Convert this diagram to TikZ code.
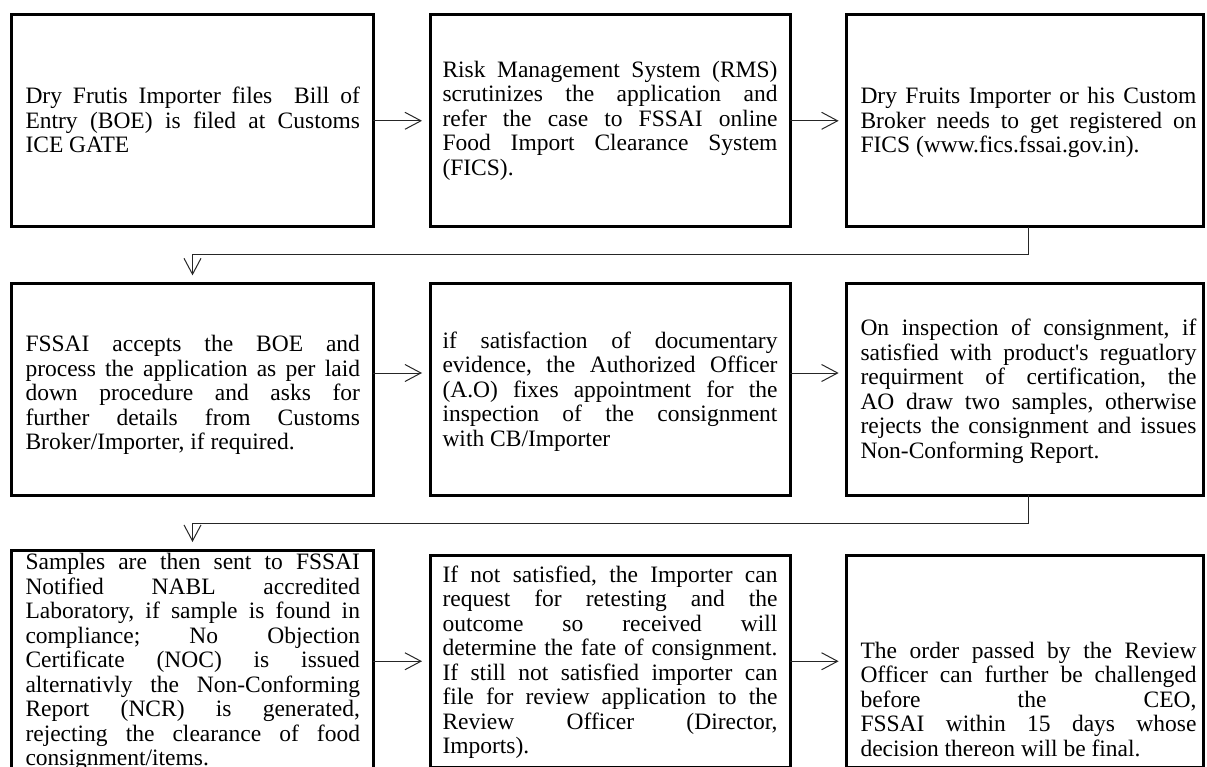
\documentclass[tikz,border=0pt]{standalone}
\usepackage{fontspec}
\setmainfont{Liberation Serif}[Ligatures=TeXOff]
\usetikzlibrary{arrows.meta}
\tolerance=10000
\hbadness=10000
\hyphenpenalty=10000
\exhyphenpenalty=10000
\frenchspacing
\tikzset{
  stepbox/.style={draw=black, line width=3pt, inner sep=0pt, outer sep=0pt},
  txt/.style={anchor=base west, inner sep=0pt, outer sep=0pt, align=justify,
    text width=#1, font=\fontsize{23.5}{24.5}\selectfont},
  conn/.style={line width=1pt, draw=black!85,
    -{Straight Barb[length=16pt,width=17pt,line width=1pt]}},
}
\begin{document}
\begin{tikzpicture}[x=1pt,y=-1pt]
\useasboundingbox (0,0) rectangle (1207,767);
\clip (0,0) rectangle (1207,767);
% boxes
\node[stepbox, minimum width=361.6pt, minimum height=211.7pt] (b1) at (192.5,120.8) {};
\node[stepbox, minimum width=360pt, minimum height=211.7pt] (b2) at (610,120.8) {};
\node[stepbox, minimum width=357.3pt, minimum height=211.7pt] (b3) at (1025.3,120.8) {};
\node[stepbox, minimum width=361.6pt, minimum height=211.7pt] (b4) at (192.5,389.2) {};
\node[stepbox, minimum width=360pt, minimum height=211.7pt] (b5) at (610,389.2) {};
\node[stepbox, minimum width=357.3pt, minimum height=211.7pt] (b6) at (1025.3,389.2) {};
\node[stepbox, minimum width=361.6pt, minimum height=250pt] (b7) at (192.5,675) {};
\node[stepbox, minimum width=360pt, minimum height=212.5pt] (b8) at (610,661.25) {};
\node[stepbox, minimum width=357.3pt, minimum height=212.5pt] (b9) at (1025.3,661.25) {};
% texts
\node[txt=334.5pt] (t1) at (25.5,104) {Dry Frutis Importer files\ \ Bill of\linebreak Entry (BOE) is filed at Customs\linebreak ICE GATE};
\node[txt=335pt] (t2) at (442.5,77.3) {Risk Management System (RMS)\linebreak scrutinizes the application and\linebreak refer the case to FSSAI online\linebreak Food Import Clearance System\linebreak (FICS).};
\node[txt=336pt] (t3) at (860.5,104) {Dry Fruits Importer or his Custom\linebreak Broker needs to get registered on\linebreak FICS (www.fics.fssai.gov.in).};
\node[txt=334.5pt] (t4) at (25.5,351.7) {FSSAI accepts the BOE and\linebreak process the application as per laid\linebreak down procedure and asks for\linebreak further details from Customs\linebreak Broker/Importer, if required.};
\node[txt=335pt] (t5) at (442.5,348.3) {if satisfaction of documentary\linebreak evidence, the Authorized Officer\linebreak (A.O) fixes appointment for the\linebreak inspection of the consignment\linebreak with CB/Importer};
\node[txt=336pt] (t6) at (860.5,335.5) {On inspection of consignment, if\linebreak satisfied with product's reguatlory\linebreak requirment of certification, the\linebreak AO draw two samples, otherwise\linebreak rejects the consignment and issues\linebreak Non-Conforming Report.};
\node[txt=334.5pt] (t7) at (25.5,569.5) {Samples are then sent to FSSAI\linebreak Notified NABL accredited\linebreak Laboratory, if sample is found in\linebreak compliance; No Objection\linebreak Certificate (NOC) is issued\linebreak alternativly the Non-Conforming\linebreak Report (NCR) is generated,\linebreak rejecting the clearance of food\linebreak consignment/items.};
\node[txt=335pt] (t8) at (442.5,582) {If not satisfied, the Importer can\linebreak request for retesting and the\linebreak outcome so received will\linebreak determine the fate of consignment.\linebreak If still not satisfied importer can\linebreak file for review application to the\linebreak Review Officer (Director,\linebreak Imports).};
\node[txt=336pt] (t9) at (860.5,658.3) {The order passed by the Review\linebreak Officer can further be challenged\linebreak before the CEO,\linebreak FSSAI within 15 days whose\linebreak decision thereon will be final.};
% connectors
\draw[conn, shorten >=8pt] (b1.east) -- (b2.west);
\draw[conn, shorten >=8pt] (b2.east) -- (b3.west);
\draw[conn] ([xshift=2.7pt]b3.south) -- ++(0,28.3) -| ([yshift=8pt]b4.north);
\draw[conn, shorten >=8pt] ([yshift=16.2pt]b4.east) -- ([yshift=16.2pt]b5.west);
\draw[conn, shorten >=8pt] ([yshift=16.2pt]b5.east) -- ([yshift=16.2pt]b6.west);
\draw[conn] ([xshift=2.7pt]b6.south) -- ++(0,28) -| ([yshift=8pt]b7.north);
\draw[conn, shorten >=8pt] (b7.east |- b8.west) -- (b8.west);
\draw[conn, shorten >=8pt] (b8.east) -- (b9.west);
\end{tikzpicture}
\end{document}
